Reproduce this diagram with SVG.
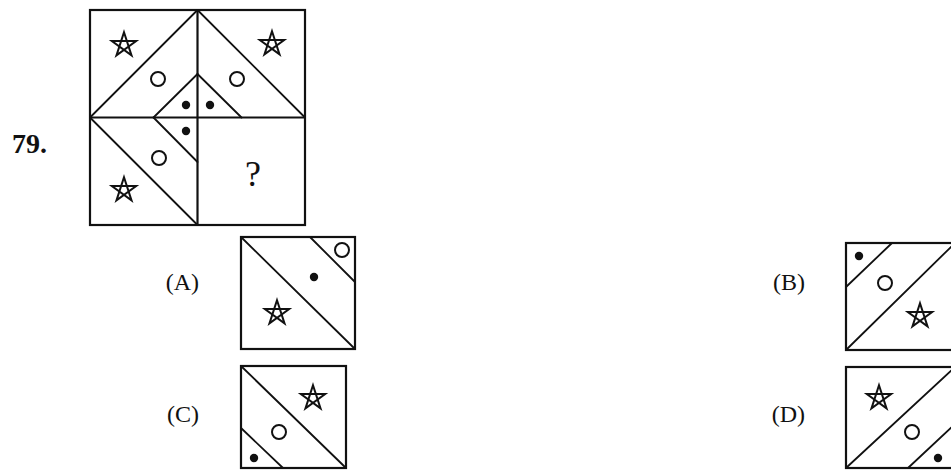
<svg xmlns="http://www.w3.org/2000/svg" width="951" height="471" viewBox="0 0 951 471">
<style>
.box{fill:none;stroke:#111;stroke-width:2.2}
.ln{fill:none;stroke:#111;stroke-width:1.8;stroke-linecap:round}
.cir{fill:none;stroke:#111;stroke-width:2}
.dot{fill:#111}
.lbl{font-family:"Liberation Serif","Times New Roman",serif;font-size:24px;fill:#111}
</style>
<defs>
<path id="star" d="M0,-12.8 L7.52,10.36 L-12.17,-3.96 L12.17,-3.96 L-7.52,10.36 Z" fill="none" stroke="#111" stroke-width="2" stroke-linejoin="miter"/>
</defs>
<rect width="951" height="471" fill="#fff"/>
<text x="12" y="153" font-family="'Liberation Serif','Times New Roman',serif" font-size="28" font-weight="bold" fill="#111">79.</text>
<g id="grid">
<rect class="box" x="90" y="10" width="215" height="215"/>
<line class="box" x1="197.5" y1="10" x2="197.5" y2="225"/>
<line class="box" x1="90" y1="117.5" x2="305" y2="117.5"/>
<g id="connectors-grid">
<line class="ln" x1="90" y1="117.5" x2="197.5" y2="10"/>
<line class="ln" x1="197.5" y1="10" x2="305" y2="117.5"/>
<line class="ln" x1="90" y1="117.5" x2="197.5" y2="225"/>
<line class="ln" x1="153.5" y1="117.5" x2="197.5" y2="74"/>
<line class="ln" x1="197.5" y1="74" x2="241.5" y2="117.5"/>
<line class="ln" x1="153.5" y1="117.5" x2="197.5" y2="162"/>
</g>
<circle class="dot" cx="186" cy="105" r="4.2"/>
<circle class="dot" cx="210" cy="105" r="4.2"/>
<circle class="dot" cx="186" cy="131" r="4.2"/>
<circle class="cir" cx="158" cy="79" r="7"/>
<circle class="cir" cx="237" cy="79" r="7"/>
<circle class="cir" cx="159" cy="158" r="7"/>
<use href="#star" x="124" y="45"/>
<use href="#star" x="272" y="44"/>
<use href="#star" x="124" y="190"/>
<text x="253" y="186" text-anchor="middle" font-family="'Liberation Serif','Times New Roman',serif" font-size="36" fill="#111">?</text>
</g>
<g id="optA">
<text class="lbl" x="199" y="290" text-anchor="end">(A)</text>
<rect class="box" x="241" y="237" width="114" height="112"/>
<line class="ln" x1="241" y1="237" x2="355" y2="349"/>
<line class="ln" x1="310" y1="237" x2="355" y2="282"/>
<circle class="cir" cx="342" cy="250" r="7"/>
<circle class="dot" cx="314" cy="277" r="4.2"/>
<use href="#star" x="277" y="313"/>
</g>
<g id="optB">
<text class="lbl" x="805" y="290" text-anchor="end">(B)</text>
<rect class="box" x="846" y="243" width="109" height="107"/>
<line class="ln" x1="846" y1="350" x2="955" y2="243"/>
<line class="ln" x1="846" y1="287" x2="892" y2="243"/>
<circle class="dot" cx="859" cy="256" r="4.2"/>
<circle class="cir" cx="885" cy="283" r="7"/>
<use href="#star" x="920" y="316"/>
</g>
<g id="optC">
<text class="lbl" x="199" y="422" text-anchor="end">(C)</text>
<rect class="box" x="241" y="366" width="105" height="102"/>
<line class="ln" x1="241" y1="366" x2="346" y2="468"/>
<line class="ln" x1="241" y1="428" x2="283" y2="468"/>
<circle class="dot" cx="254" cy="458" r="4.2"/>
<circle class="cir" cx="279" cy="432" r="7"/>
<use href="#star" x="313" y="398"/>
</g>
<g id="optD">
<text class="lbl" x="805" y="422" text-anchor="end">(D)</text>
<rect class="box" x="846" y="367" width="109" height="101"/>
<line class="ln" x1="846" y1="468" x2="955" y2="367"/>
<line class="ln" x1="908" y1="468" x2="955" y2="424"/>
<circle class="dot" cx="938" cy="458" r="4.2"/>
<circle class="cir" cx="912" cy="432" r="7"/>
<use href="#star" x="879" y="398"/>
</g>
</svg>
